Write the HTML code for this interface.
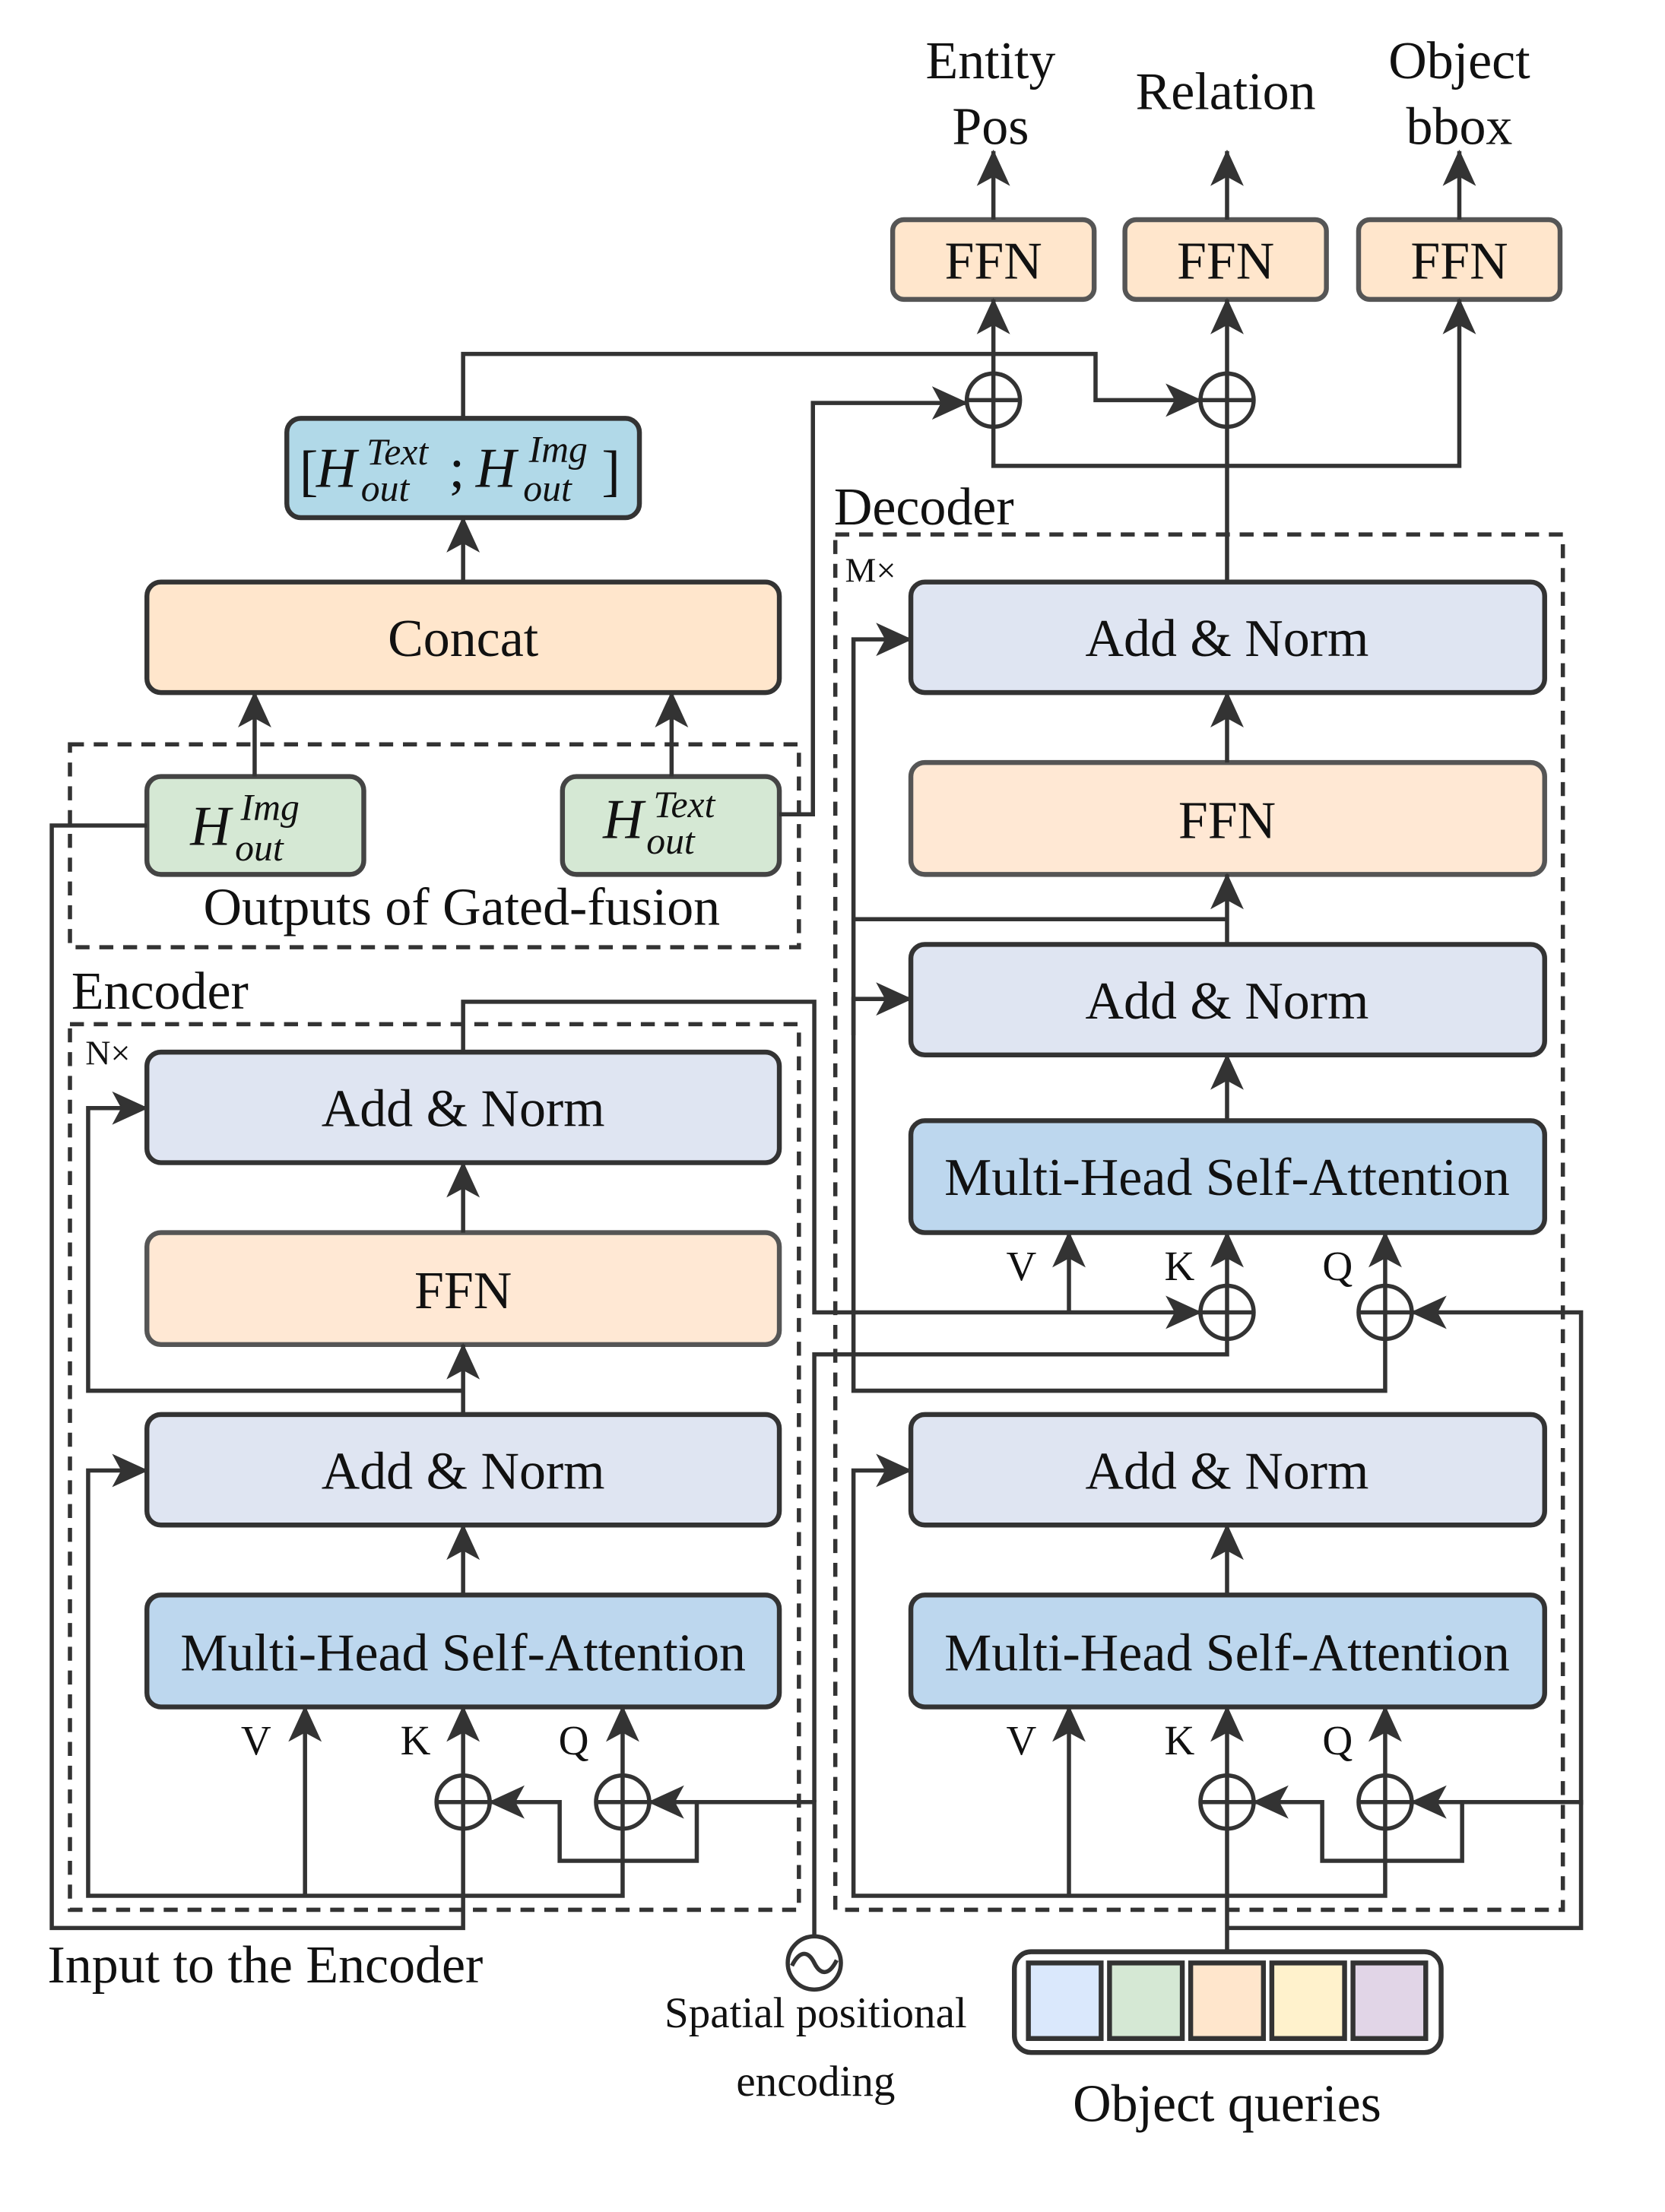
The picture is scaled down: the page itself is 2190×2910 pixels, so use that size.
<!DOCTYPE html>
<html><head><meta charset="utf-8"><style>
html,body{margin:0;padding:0;background:#fff;}
svg{display:block;}
text{font-family:"Liberation Serif","Times New Roman",serif;fill:#111;}
</style></head><body>
<svg width="2190" height="2910" viewBox="0 0 1190 1581" preserveAspectRatio="none" xmlns="http://www.w3.org/2000/svg" font-family="Liberation Serif, serif">
<defs>
<marker id="a" markerUnits="userSpaceOnUse" markerWidth="26" markerHeight="26" viewBox="0 0 24 22" refX="23" refY="11" orient="auto">
<path d="M0,0 L24,11 L0,22 L6,11 Z" fill="#333"/>
</marker>
</defs>
<g fill="none" stroke="#333" stroke-width="3">
<rect x="50" y="532" width="521" height="145" stroke-dasharray="10,7"/>
<rect x="50" y="732" width="521" height="633" stroke-dasharray="10,7"/>
<rect x="597" y="382" width="520" height="983" stroke-dasharray="10,7"/>
</g>
<g stroke="#333" stroke-width="3.5">
<rect x="638" y="157" width="144" height="57" rx="8" fill="#ffe6cc" stroke="#555"/>
<rect x="804" y="157" width="144" height="57" rx="8" fill="#ffe6cc" stroke="#555"/>
<rect x="971" y="157" width="144" height="57" rx="8" fill="#ffe6cc" stroke="#555"/>
<rect x="205" y="299" width="252" height="71" rx="10" fill="#b1d9e8"/>
<rect x="105" y="416" width="452" height="79" rx="10" fill="#ffe6cc"/>
<rect x="105" y="555" width="155" height="70" rx="10" fill="#d5e8d4" stroke="#444"/>
<rect x="402" y="555" width="155" height="70" rx="10" fill="#d5e8d4" stroke="#444"/>
<rect x="105" y="752" width="452" height="79" rx="10" fill="#dfe5f2"/>
<rect x="105" y="881" width="452" height="80" rx="10" fill="#ffe8d4" stroke="#555"/>
<rect x="105" y="1011" width="452" height="79" rx="10" fill="#dfe5f2"/>
<rect x="105" y="1140" width="452" height="80" rx="10" fill="#bdd7ee"/>
<rect x="651" y="416" width="453" height="79" rx="10" fill="#dfe5f2"/>
<rect x="651" y="545" width="453" height="80" rx="10" fill="#ffe8d4" stroke="#555"/>
<rect x="651" y="675" width="453" height="79" rx="10" fill="#dfe5f2"/>
<rect x="651" y="801" width="453" height="80" rx="10" fill="#bdd7ee"/>
<rect x="651" y="1011" width="453" height="79" rx="10" fill="#dfe5f2"/>
<rect x="651" y="1140" width="453" height="80" rx="10" fill="#bdd7ee"/>
<rect x="725" y="1395" width="305" height="72" rx="12" fill="#fff"/>
<rect x="735" y="1403" width="52" height="54" fill="#dae8fc"/>
<rect x="793" y="1403" width="52" height="54" fill="#d5e8d4"/>
<rect x="851" y="1403" width="52" height="54" fill="#ffe6cc"/>
<rect x="909" y="1403" width="52" height="54" fill="#fff2cc"/>
<rect x="967" y="1403" width="52" height="54" fill="#e1d5e7"/>
</g>
<g fill="none" stroke="#333" stroke-width="3">
<line x1="710" y1="157" x2="710" y2="108" marker-end="url(#a)"/>
<line x1="877" y1="157" x2="877" y2="108" marker-end="url(#a)"/>
<line x1="1043" y1="157" x2="1043" y2="108" marker-end="url(#a)"/>
<line x1="710" y1="267" x2="710" y2="214" marker-end="url(#a)"/>
<line x1="877" y1="267" x2="877" y2="214" marker-end="url(#a)"/>
<polyline points="710,305 710,333 1043,333 1043,214" marker-end="url(#a)"/>
<polyline points="331,299 331,253 783,253 783,286 858,286" marker-end="url(#a)"/>
<polyline points="557,582 581,582 581,288 691,288" marker-end="url(#a)"/>
<line x1="877" y1="416" x2="877" y2="305"/>
<line x1="331" y1="416" x2="331" y2="370" marker-end="url(#a)"/>
<line x1="182" y1="555" x2="182" y2="495" marker-end="url(#a)"/>
<line x1="480" y1="555" x2="480" y2="495" marker-end="url(#a)"/>
<polyline points="105,590 37,590 37,1378 331,1378 331,1307"/>
<polyline points="445,1307 445,1355 63,1355 63,1051 105,1051" marker-end="url(#a)"/>
<line x1="218" y1="1355" x2="218" y2="1220" marker-end="url(#a)"/>
<line x1="331" y1="1269" x2="331" y2="1220" marker-end="url(#a)"/>
<line x1="445" y1="1269" x2="445" y2="1220" marker-end="url(#a)"/>
<line x1="331" y1="1140" x2="331" y2="1090" marker-end="url(#a)"/>
<line x1="331" y1="1011" x2="331" y2="961" marker-end="url(#a)"/>
<line x1="331" y1="881" x2="331" y2="831" marker-end="url(#a)"/>
<polyline points="331,994 63,994 63,792 105,792" marker-end="url(#a)"/>
<polyline points="582,1383 582,1288 464,1288" marker-end="url(#a)"/>
<polyline points="498,1288 498,1330 400,1330 400,1288 350,1288" marker-end="url(#a)"/>
<polyline points="331,752 331,716 582,716 582,938 858,938" marker-end="url(#a)"/>
<line x1="764" y1="938" x2="764" y2="881" marker-end="url(#a)"/>
<polyline points="582,1288 582,968 877,968 877,957"/>
<line x1="877" y1="919" x2="877" y2="881" marker-end="url(#a)"/>
<line x1="990" y1="919" x2="990" y2="881" marker-end="url(#a)"/>
<polyline points="990,957 990,994 610,994 610,457 651,457" marker-end="url(#a)"/>
<polyline points="1130,1290 1130,938 1009,938" marker-end="url(#a)"/>
<line x1="877" y1="801" x2="877" y2="754" marker-end="url(#a)"/>
<line x1="877" y1="675" x2="877" y2="625" marker-end="url(#a)"/>
<line x1="877" y1="545" x2="877" y2="495" marker-end="url(#a)"/>
<polyline points="877,657 610,657"/>
<polyline points="610,740 610,714 651,714" marker-end="url(#a)"/>
<line x1="877" y1="1395" x2="877" y2="1307"/>
<polyline points="877,1378 1130,1378 1130,1288 1009,1288" marker-end="url(#a)"/>
<polyline points="1045,1288 1045,1330 945,1330 945,1288 896,1288" marker-end="url(#a)"/>
<polyline points="990,1307 990,1355 610,1355 610,1051 651,1051" marker-end="url(#a)"/>
<line x1="764" y1="1355" x2="764" y2="1220" marker-end="url(#a)"/>
<line x1="877" y1="1269" x2="877" y2="1220" marker-end="url(#a)"/>
<line x1="990" y1="1269" x2="990" y2="1220" marker-end="url(#a)"/>
<line x1="877" y1="1140" x2="877" y2="1090" marker-end="url(#a)"/>
</g>
<g fill="#fff" stroke="#333" stroke-width="3">
<g transform="translate(710,286)"><circle r="19"/><path d="M-19,0H19M0,-19V19"/></g>
<g transform="translate(877,286)"><circle r="19"/><path d="M-19,0H19M0,-19V19"/></g>
<g transform="translate(877,938)"><circle r="19"/><path d="M-19,0H19M0,-19V19"/></g>
<g transform="translate(990,938)"><circle r="19"/><path d="M-19,0H19M0,-19V19"/></g>
<g transform="translate(331,1288)"><circle r="19"/><path d="M-19,0H19M0,-19V19"/></g>
<g transform="translate(445,1288)"><circle r="19"/><path d="M-19,0H19M0,-19V19"/></g>
<g transform="translate(877,1288)"><circle r="19"/><path d="M-19,0H19M0,-19V19"/></g>
<g transform="translate(990,1288)"><circle r="19"/><path d="M-19,0H19M0,-19V19"/></g>
<g transform="translate(582,1403)"><circle r="19"/><path d="M-16,2 C-10,-10 -4,-8 0,0 C4,8 10,10 16,-2" fill="none" stroke-width="3"/></g>
</g>
<g font-size="38" text-anchor="middle">
<text x="708" y="56">Entity</text>
<text x="708" y="103">Pos</text>
<text x="876" y="78">Relation</text>
<text x="1043" y="56">Object</text>
<text x="1043" y="103">bbox</text>
<text x="710" y="199">FFN</text>
<text x="876" y="199">FFN</text>
<text x="1043" y="199">FFN</text>
<text x="331" y="469">Concat</text>
<text x="331" y="805">Add &amp; Norm</text>
<text x="331" y="935">FFN</text>
<text x="331" y="1064">Add &amp; Norm</text>
<text x="331" y="1194">Multi-Head Self-Attention</text>
<text x="877" y="469">Add &amp; Norm</text>
<text x="877" y="599">FFN</text>
<text x="877" y="728">Add &amp; Norm</text>
<text x="877" y="854">Multi-Head Self-Attention</text>
<text x="877" y="1064">Add &amp; Norm</text>
<text x="877" y="1194">Multi-Head Self-Attention</text>
<text x="330" y="661">Outputs of Gated-fusion</text>
<text x="877" y="1516">Object queries</text>
</g>
<g font-size="38">
<text x="596" y="375">Decoder</text>
<text x="51" y="721">Encoder</text>
<text x="34" y="1417">Input to the Encoder</text>
</g>
<g font-size="25"><text x="604" y="416">M×</text><text x="61" y="761">N×</text></g>
<g font-size="30" text-anchor="middle">
<text x="183" y="1254">V</text><text x="297" y="1254">K</text><text x="410" y="1254">Q</text>
<text x="730" y="1254">V</text><text x="843" y="1254">K</text><text x="956" y="1254">Q</text>
<text x="730" y="915">V</text><text x="843" y="915">K</text><text x="956" y="915">Q</text>
</g>
<g font-size="31" text-anchor="middle">
<text x="583" y="1449">Spatial positional</text>
<text x="583" y="1498">encoding</text>
</g>
<g font-style="italic">
<text x="136" y="604" font-size="40">H</text>
<text x="172" y="586" font-size="27">Img</text>
<text x="168" y="615" font-size="27">out</text>
<text x="431" y="599" font-size="40">H</text>
<text x="467" y="584" font-size="27">Text</text>
<text x="462" y="610" font-size="27">out</text>
<text x="214" y="350" font-size="40" font-style="normal">[</text>
<text x="226" y="348" font-size="40">H</text>
<text x="262" y="332" font-size="27">Text</text>
<text x="258" y="358" font-size="27">out</text>
<text x="321" y="348" font-size="40" font-style="normal">;</text>
<text x="340" y="348" font-size="40">H</text>
<text x="378" y="330" font-size="27">Img</text>
<text x="374" y="358" font-size="27">out</text>
<text x="430" y="350" font-size="40" font-style="normal">]</text>
</g>
</svg>
</body></html>
